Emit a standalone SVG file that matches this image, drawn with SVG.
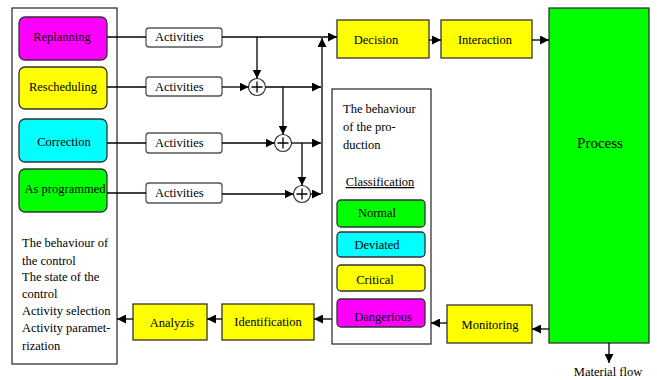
<svg xmlns="http://www.w3.org/2000/svg" width="657" height="380" viewBox="0 0 657 380">
<style>
text{font-family:"Liberation Serif","Times New Roman",serif;font-size:12.5px;fill:#000}
.c{text-anchor:middle}
.frame{fill:#fff;stroke:#333;stroke-width:1.3}
.node{stroke:#333;stroke-width:1.3}
.act{fill:#fff;stroke:#555;stroke-width:1.3}
.ln{fill:none;stroke:#000;stroke-width:1.3}
.arr{fill:none;stroke:#000;stroke-width:1.3;marker-end:url(#ah)}
.sum{fill:#fff;stroke:#333;stroke-width:1.2}
.y{fill:#ffff00}.m{fill:#ff00ff}.cy{fill:#00ffff}.g{fill:#00ff00}
</style>
<defs>
<marker id="ah" markerUnits="userSpaceOnUse" markerWidth="10" markerHeight="9" refX="9" refY="4.5" orient="auto">
<path d="M0,0 L9,4.5 L0,9 z" fill="#000"/>
</marker>
</defs>

<g id="control-box">
<rect class="frame" x="12" y="8" width="105" height="356"/>
<text x="22" y="247">The behaviour of</text>
<text x="22" y="265">the control</text>
<text x="22" y="281">The state of the</text>
<text x="22" y="298">control</text>
<text x="22" y="315">Activity selection</text>
<text x="22" y="332">Activity paramet-</text>
<text x="22" y="350">rization</text>
</g>
<g id="replanning"><rect class="node m" x="19" y="17" width="88" height="43" rx="6"/><text class="c" x="62" y="41">Replanning</text></g>
<g id="rescheduling"><rect class="node y" x="19" y="67" width="88" height="42" rx="6"/><text class="c" x="63" y="91">Rescheduling</text></g>
<g id="correction"><rect class="node cy" x="19" y="119" width="88" height="43" rx="6"/><text class="c" x="64" y="146">Correction</text></g>
<g id="as-programmed"><rect class="node g" x="19" y="169" width="88" height="43" rx="6"/><text class="c" x="65" y="193">As programmed</text></g>

<g id="activities-1"><rect class="act" x="146" y="28" width="76" height="19" rx="3"/><text x="155" y="41">Activities</text></g>
<g id="activities-2"><rect class="act" x="146" y="77" width="76" height="19" rx="3"/><text x="155" y="91">Activities</text></g>
<g id="activities-3"><rect class="act" x="146" y="133" width="76" height="20" rx="3"/><text x="155" y="147">Activities</text></g>
<g id="activities-4"><rect class="act" x="146" y="183" width="76" height="20" rx="3"/><text x="155" y="197">Activities</text></g>

<g id="sum-1"><circle class="sum" cx="257" cy="87" r="8.5"/><path class="ln" d="M251.5,87 H262.5 M257,81.5 V92.5" stroke-width="1"/></g>
<g id="sum-2"><circle class="sum" cx="283" cy="143" r="8.5"/><path class="ln" d="M277.5,143 H288.5 M283,137.5 V148.5" stroke-width="1"/></g>
<g id="sum-3"><circle class="sum" cx="302" cy="194" r="8.5"/><path class="ln" d="M296.5,194 H307.5 M302,188.5 V199.5" stroke-width="1"/></g>

<g id="decision"><rect class="node y" x="337" y="20" width="92" height="38"/><text class="c" x="376" y="44">Decision</text></g>
<g id="interaction"><rect class="node y" x="441" y="20" width="91" height="38"/><text class="c" x="485" y="44">Interaction</text></g>
<g id="process"><rect class="node g" x="549" y="8" width="100" height="335"/><text class="c" x="600" y="148" style="font-size:15px">Process</text></g>

<g id="production-box">
<rect class="frame" x="332" y="89" width="99" height="255"/>
<text x="343" y="113">The behaviour</text>
<text x="343" y="131">of the pro-</text>
<text x="343" y="149">duction</text>
<text class="c" x="380" y="186" text-decoration="underline">Classification</text>
</g>
<g id="normal"><rect class="node g" x="337" y="200" width="88" height="27" rx="4"/><text class="c" x="377" y="217">Normal</text></g>
<g id="deviated"><rect class="node cy" x="337" y="232" width="88" height="25" rx="4"/><text class="c" x="377" y="249">Deviated</text></g>
<g id="critical"><rect class="node y" x="337" y="265" width="88" height="26" rx="4"/><text class="c" x="375" y="284">Critical</text></g>
<g id="dangerious"><rect class="node m" x="337" y="299" width="88" height="28" rx="4"/><text class="c" x="383" y="321">Dangerious</text></g>

<g id="monitoring"><rect class="node y" x="447" y="305" width="85" height="38"/><text class="c" x="490" y="329">Monitoring</text></g>
<g id="identification"><rect class="node y" x="222" y="304" width="92" height="36"/><text class="c" x="268" y="326">Identification</text></g>
<g id="analyzis"><rect class="node y" x="133" y="304" width="74" height="36"/><text class="c" x="172" y="327">Analyzis</text></g>
<g id="material-flow"><text class="c" x="608" y="376">Material flow</text></g>

<g id="connectors">
<path class="ln" d="M107,37 H146"/>
<path class="arr" d="M222,37 H337"/>
<path class="arr" d="M257,37 V78.5"/>
<path class="ln" d="M107,87 H146"/>
<path class="arr" d="M222,87 H248.5"/>
<path class="arr" d="M265.5,87 H321"/>
<path class="arr" d="M283,87 V134.5"/>
<path class="ln" d="M107,143 H146"/>
<path class="arr" d="M222,143 H274.5"/>
<path class="arr" d="M291.5,143 H321"/>
<path class="arr" d="M302,143 V185.5"/>
<path class="ln" d="M107,193 H146"/>
<path class="arr" d="M222,194 H293.5"/>
<path class="arr" d="M310.5,194 H321"/>
<path class="arr" d="M322,194 V38"/>
<path class="arr" d="M429,40 H441"/>
<path class="arr" d="M532,40 H549"/>
<path class="arr" d="M549,329 H532"/>
<path class="arr" d="M447,323 H431"/>
<path class="arr" d="M332,319 H314"/>
<path class="arr" d="M222,319 H207"/>
<path class="arr" d="M133,319 H117"/>
<path class="arr" d="M609,343 V363"/>
</g>
</svg>
